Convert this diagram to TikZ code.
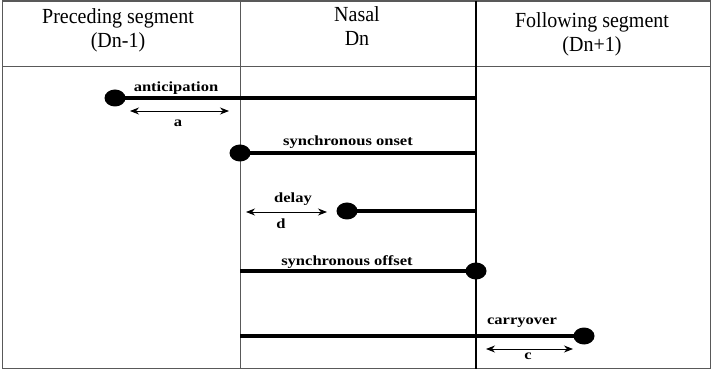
\documentclass[tikz,border=0pt]{standalone}
\usepackage{fontspec}
\setmainfont{Liberation Serif}
\newfontfamily\lblfont[FakeStretch=1.18]{Liberation Serif}
\newfontfamily\headfont[FakeStretch=0.93]{Liberation Serif}
\usetikzlibrary{shapes.geometric,arrows.meta}
\tikzset{
  frameline/.style={draw=black!65, line width=1.3pt},
  thinsep/.style={draw=black!65, line width=1pt},
  thicksep/.style={draw=black, line width=2.4pt},
  bar/.style={draw=black, line width=3.8pt},
  dot/.style={ellipse, fill=black, minimum width=21pt, minimum height=17pt, inner sep=0pt},
  head/.style={align=center, font=\headfont\fontsize{21.5}{24}\selectfont},
  lbl/.style={inner sep=0pt, font=\lblfont\bfseries\fontsize{14}{16}\selectfont},
  span/.style={draw=black, line width=0.9pt, {Stealth[length=9pt,width=7pt]}-{Stealth[length=9pt,width=7pt]}}
}
\begin{document}
\begin{tikzpicture}[x=1pt,y=-1pt]
\useasboundingbox (0,0) rectangle (712,371);
% frame
\path[frameline] (2.5,1) rectangle (710.5,368.5);
\draw[thinsep] (2.5,67) -- (710.5,67);
\draw[thinsep] (240,1) -- (240,368.5);
\draw[thicksep] (476,1) -- (476,368.5);
% headers
\node[head] (h1) at (118,30) {Preceding segment\\(Dn-1)};
\node[head] (h2) at (357,26) {Nasal\\Dn};
\node[head] (h3) at (592,34) {Following segment\\(Dn+1)};
% anticipation
\node[dot] (d1) at (115,98) {};
\coordinate (e1) at (476,98);
\draw[bar] (d1.center) -- (e1);
\node[lbl] (l1) at (176,88) {anticipation};
\coordinate (a1) at (130,111);
\coordinate (a2) at (229,111);
\draw[span] (a1) -- (a2);
\node[lbl] (la) at (178,123) {a};
% synchronous onset
\node[dot] (d2) at (240,153) {};
\coordinate (e2) at (476,153);
\draw[bar] (d2.center) -- (e2);
\node[lbl] (l2) at (348,142) {synchronous onset};
% delay
\node[dot] (d3) at (347,211) {};
\coordinate (e3) at (476,211);
\draw[bar] (d3.center) -- (e3);
\node[lbl] (l3) at (293,199) {delay};
\coordinate (b1) at (246,212);
\coordinate (b2) at (327,212);
\draw[span] (b1) -- (b2);
\node[lbl] (ld) at (281,224) {d};
% synchronous offset
\coordinate (s4) at (240,271);
\node[dot] (d4) at (476,271) {};
\draw[bar] (s4) -- (d4.center);
\node[lbl] (l4) at (347,262) {synchronous offset};
% carryover
\coordinate (s5) at (240,336);
\node[dot] (d5) at (584,336) {};
\draw[bar] (s5) -- (d5.center);
\node[lbl] (l5) at (522,323) {carryover};
\coordinate (c1) at (486,349);
\coordinate (c2) at (573,349);
\draw[span] (c1) -- (c2);
\node[lbl] (lc) at (528,356) {c};
\end{tikzpicture}
\end{document}
